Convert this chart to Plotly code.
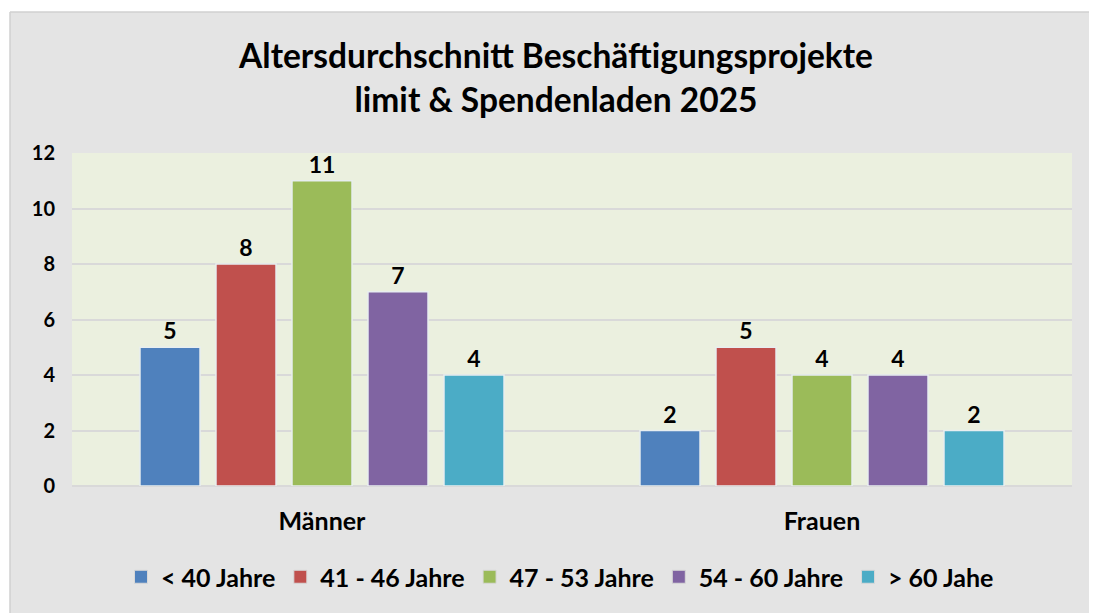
import plotly.graph_objects as go

categories = ["Männer", "Frauen"]
series_names = ["< 40 Jahre", "41 - 46 Jahre", "47 - 53 Jahre", "54 - 60 Jahre", "> 60 Jahe"]
values_lt40 = [5, 2]
values_41_46 = [8, 5]
values_47_53 = [11, 4]
values_54_60 = [7, 4]
values_gt60 = [4, 2]
series_values = [values_lt40, values_41_46, values_47_53, values_54_60, values_gt60]
colors = ["#4f81bd", "#c0504d", "#9bbb59", "#8064a2", "#4bacc6"]
y_ticks = [0, 2, 4, 6, 8, 10, 12]

FONT = "Lato"

fig = go.Figure()
for name, vals, col in zip(series_names, series_values, colors):
    fig.add_trace(go.Bar(
        x=categories, y=vals, name=name, legendgroup=name, showlegend=False,
        marker=dict(color=col, line=dict(color="#e8eef0", width=1.5)),
        text=[str(v) for v in vals], textposition="outside",
        textfont=dict(family=FONT, size=23, color="#000000", weight="bold"),
        cliponaxis=False,
    ))
# legend entries with square swatches
for name, col in zip(series_names, colors):
    fig.add_trace(go.Scatter(
        x=[None], y=[None], mode="markers", name=name, legendgroup=name,
        marker=dict(symbol="square", size=13, color=col, line=dict(color="#d8d8d8", width=1)),
        showlegend=True, hoverinfo="skip",
    ))

# the page body adds an 8px offset; figure coordinates below are page pixels minus 8
W, H = 1089, 605
L, R, T, B = 64, 25, 145, 127
pw, ph = W - L - R, H - T - B

def px_x(p):
    return (p - L) / pw

def px_y(p):
    return (H - B - p) / ph

fig.update_layout(
    width=W, height=H,
    paper_bgcolor="#e4e4e4",
    plot_bgcolor="#ebf0df",
    margin=dict(l=L, r=R, t=T, b=B),
    barmode="group", bargap=0.24, bargroupgap=0.21,
    font=dict(family=FONT, color="#000000"),
    title=dict(
        text="<b>Altersdurchschnitt Beschäftigungsprojekte<br>limit & Spendenladen 2025</b>",
        x=548 / W, xanchor="center", y=1 - 60 / H, yanchor="middle",
        font=dict(family=FONT, size=33.5, color="#000000"),
    ),
    yaxis=dict(
        range=[0, 12], tickvals=y_ticks, showgrid=True, gridcolor="#d9d9d9", gridwidth=2,
        zeroline=True, zerolinecolor="#d9d9d9", zerolinewidth=2,
        tickfont=dict(family=FONT, size=20, color="#000000", weight="bold"),
        ticklabelstandoff=16, fixedrange=True,
    ),
    xaxis=dict(
        tickfont=dict(family=FONT, size=25, color="#000000", weight="bold"),
        ticklabelstandoff=18, showline=False,
    ),
    legend=dict(
        orientation="h", x=552 / W, xanchor="center", xref="container",
        y=1 - 569 / H, yref="container", yanchor="middle",
        font=dict(family=FONT, size=25, color="#000000", weight="bold"),
        bgcolor="rgba(0,0,0,0)", itemwidth=30, tracegroupgap=0,
    ),
    shapes=[
        dict(type="rect", xref="paper", yref="paper", x0=px_x(0), x1=px_x(W), y0=px_y(0), y1=px_y(4),
             fillcolor="#ffffff", line=dict(width=0), layer="below"),
        dict(type="rect", xref="paper", yref="paper", x0=px_x(0), x1=px_x(2), y0=px_y(0), y1=px_y(H),
             fillcolor="#ffffff", line=dict(width=0), layer="below"),
        dict(type="line", xref="paper", yref="paper", x0=px_x(2), x1=px_x(2), y0=px_y(4), y1=px_y(H),
             line=dict(color="#d0d0d0", width=1.5), layer="below"),
        dict(type="line", xref="paper", yref="paper", x0=px_x(2), x1=px_x(W), y0=px_y(4), y1=px_y(4),
             line=dict(color="#d0d0d0", width=1.5), layer="below"),
    ],
    showlegend=True,
)

fig.write_html("out.html")
